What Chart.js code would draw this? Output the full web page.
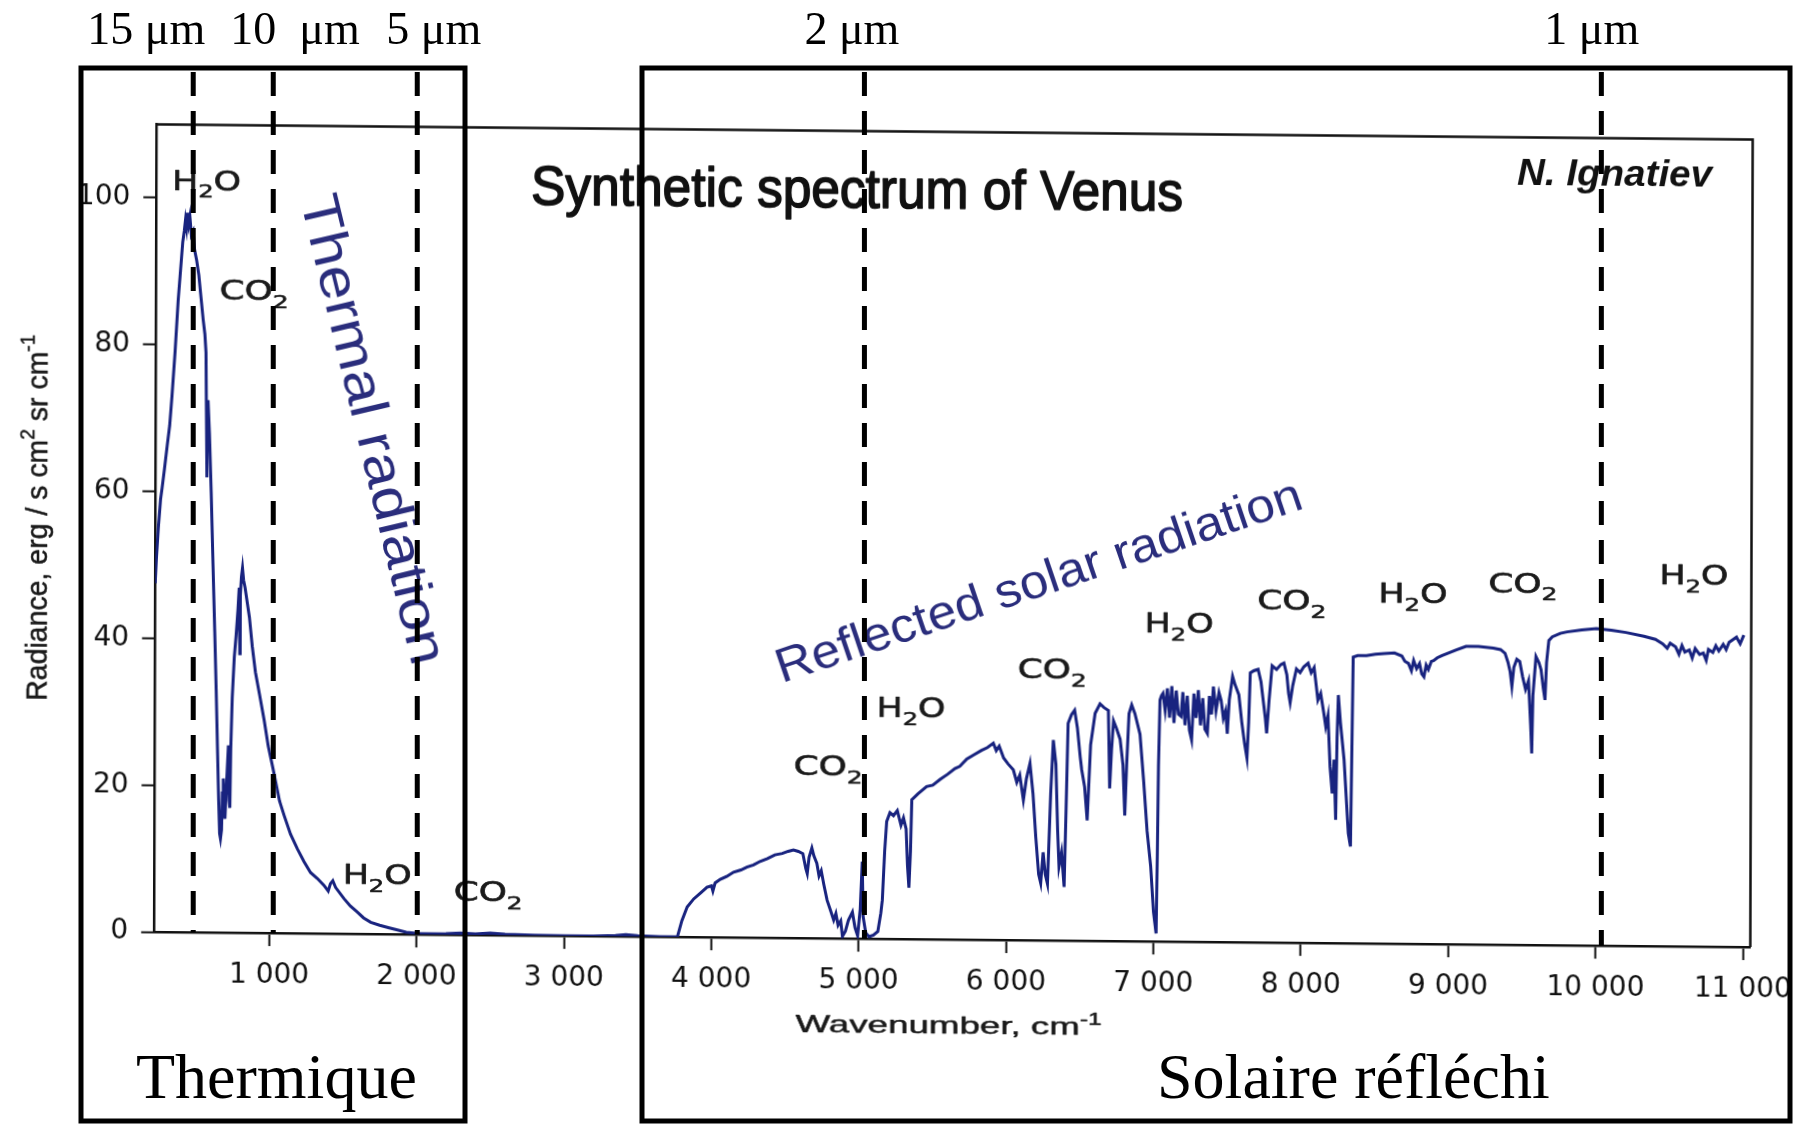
<!DOCTYPE html>
<html>
<head>
<meta charset="utf-8">
<script src="https://cdn.jsdelivr.net/npm/chart.js@4.4.0/dist/chart.umd.min.js"></script>
<style>
  html, body { margin: 0; padding: 0; background: #ffffff; }
  #wrap { position: relative; width: 1809px; height: 1125px; overflow: hidden; background: #ffffff; }
  #chart { position: absolute; left: 0; top: 0; }
  #overlay { position: absolute; left: 0; top: 0; pointer-events: none; }
</style>
</head>
<body>
<div id="wrap">
  <canvas id="chart" width="1809" height="1125"></canvas>
  <canvas id="overlay" width="1809" height="1125"></canvas>
</div>
<script>
// ---- Synthetic spectrum of Venus: radiance vs wavenumber ----
const spectrumWavenumber = [
  220, 228, 240, 255, 265, 280, 300, 315, 330, 350, 370, 385, 400, 410, 418, 425, 432, 440, 448, 458,
  470, 480, 495, 510, 525, 540, 552, 560, 564, 567, 570, 575, 585, 598, 612, 625, 636, 646, 655, 662,
  668, 675, 680, 686, 692, 698, 704, 712, 720, 726, 731, 736, 745, 758, 770, 782, 790, 795, 798, 805,
  812, 820, 830, 845, 860, 880, 902, 930, 962, 990, 1022, 1068, 1100, 1143, 1190, 1235, 1280, 1326, 1370, 1400,
  1415, 1431, 1450, 1507, 1550, 1597, 1640, 1689, 1750, 1808, 1870, 1930, 2000, 2100, 2200, 2300, 2400, 2500, 2600, 2800,
  3000, 3200, 3350, 3420, 3500, 3650, 3770,
  3800, 3836, 3880, 3925, 3970, 4000, 4010, 4025, 4060, 4103, 4150, 4200, 4240, 4285, 4330, 4380, 4430, 4480, 4520, 4556,
  4590, 4620, 4640, 4650, 4662, 4681, 4695, 4715, 4730, 4745, 4763, 4785, 4809, 4830, 4845, 4860, 4878, 4890, 4910, 4930,
  4957, 4975, 4993, 5010, 5023, 5030, 5048, 5070, 5100, 5130, 5150, 5160, 5175, 5188, 5210, 5234, 5260, 5285, 5302, 5320,
  5330, 5340, 5350, 5358, 5400, 5458, 5500, 5550, 5600, 5650, 5683, 5730, 5780, 5830, 5870, 5910, 5930, 5950, 5980, 6010,
  6046, 6070, 6090, 6115, 6135, 6159, 6180, 6200, 6220, 6234, 6250, 6265, 6280, 6300, 6317, 6335, 6348, 6358, 6375, 6393,
  6405, 6417, 6440, 6461, 6480, 6500, 6510, 6530, 6548, 6560, 6570, 6600, 6633, 6660, 6690, 6700, 6712, 6725, 6745, 6770,
  6790, 6803, 6815, 6830, 6848, 6870, 6905, 6930, 6955, 6980, 7000, 7018, 7025, 7031, 7040, 7050, 7060, 7075, 7090, 7105,
  7120, 7135, 7150, 7165, 7183, 7195, 7210, 7225, 7240, 7255, 7270, 7285, 7300, 7315, 7330, 7345, 7362, 7375, 7390, 7402,
  7420, 7440, 7455, 7470, 7485, 7497, 7510, 7532, 7550, 7575, 7595, 7615, 7631, 7642, 7652, 7675, 7705, 7725, 7740, 7755,
  7764, 7780, 7800, 7830, 7860, 7880, 7900, 7912, 7923, 7940, 7965, 7990, 8015, 8044, 8065, 8085, 8100, 8111, 8130, 8150,
  8165, 8180, 8195, 8210, 8222, 8234, 8242, 8250, 8265, 8280, 8290, 8305, 8320, 8335, 8342, 8350, 8380, 8440, 8500, 8560,
  8630, 8680, 8700, 8725, 8745, 8760, 8780, 8800, 8815, 8830, 8845, 8860, 8880, 8895, 8920, 8950, 9000, 9050, 9115, 9200,
  9300, 9350, 9380, 9400, 9415, 9427, 9440, 9460, 9480, 9500, 9520, 9540, 9555, 9563, 9570, 9590, 9610, 9625, 9640, 9652,
  9662, 9677, 9700, 9755, 9800, 9900, 9999, 10100, 10200, 10322, 10400, 10450, 10480, 10500, 10537, 10560, 10580, 10600, 10630, 10650,
  10670, 10700, 10725, 10745, 10760, 10790, 10810, 10830, 10860, 10880, 10900, 10950, 10975, 11000
];
const spectrumRadiance = [
  47.5, 51, 55, 59, 60.5, 63, 66.5, 69, 73, 79, 86, 90, 94, 95.5, 97, 96, 98, 96.5, 97.5, 95,
  95.5, 93, 91.5, 89.5, 86.5, 83.5, 81.5, 79, 71, 62, 70, 72.5, 68, 60, 50, 41, 33, 25, 18, 13.5,
  12.8, 14, 19, 21, 17.5, 15.5, 18.5, 22, 25.5, 18, 17, 25, 32, 37.5, 40.5, 44, 47, 38, 46, 48.5,
  49.7, 48, 47, 45, 43, 39, 35.5, 32.5, 29, 25.5, 22.5, 18, 16, 13.5, 11.5, 9.8, 8.3, 7.5, 6.6, 5.8,
  6.8, 7.2, 6.3, 4.8, 3.8, 3.0, 2.2, 1.6, 1.2, 0.9, 0.6, 0.3, 0.15, 0.1, 0.15, 0.25, 0.15, 0.3, 0.15, 0.05,
  0.03, 0.03, 0.1, 0.25, 0.1, 0.02, 0,
  2.2, 4.1, 5.2, 6.0, 6.8, 7.0, 6.3, 7.4, 7.9, 8.3, 8.9, 9.2, 9.6, 9.9, 10.4, 10.8, 11.3, 11.5, 11.8, 12.0,
  11.8, 11.5, 9.5, 8.8, 11.0, 12.3, 11.2, 10.2, 8.5, 9.2, 7.3, 5.2, 3.8, 2.5, 3.4, 1.8, 2.4, 0.3, 1.0, 2.5,
  3.6, 1.5, 0.4, 4, 10.5, 3, 0.8, 0.3, 0.5, 1.0, 3.5, 5.3, 12, 16.0, 17.2, 16.8, 17.5, 15.5, 16.5, 15,
  10, 7.0, 12, 19.0, 19.8, 20.8, 21.0, 21.8, 22.5, 23.3, 23.6, 24.6, 25.2, 25.8, 26.2, 26.8, 25.8, 26.4, 24.8, 24,
  23.2, 21.5, 22.5, 19.1, 22, 24.1, 20, 14, 9, 7.8, 12, 9, 7.7, 20, 27.3, 24, 15, 10.1, 12, 7.3,
  18, 29.6, 30.8, 31.4, 29, 25, 23.3, 21, 16.4, 22, 26.7, 31, 32.3, 31.8, 31.4, 20.8, 26, 30, 29, 27.5,
  24, 17.1, 24, 31, 32.2, 31, 28.2, 22, 15, 10.2, 4, 1.1, 12, 23.9, 32.9, 33.5, 33.8, 31.5, 34.5, 30.5,
  34.8, 29.8, 34.2, 31, 30.7, 34, 29.5, 33.5, 28.8, 27.5, 33.8, 30.5, 34.3, 29.5, 33.2, 29, 28.4, 33.5, 31, 34.8,
  31.5, 34, 32.9, 30.5, 31.5, 28.4, 33, 36.2, 35, 33.7, 30, 27, 25.1, 30, 36.7, 37, 37.2, 35.5, 33, 30.5,
  28.5, 33, 37.7, 37.2, 37.9, 38.1, 36.5, 34, 32.7, 35, 37.3, 36.8, 37.6, 38.1, 36.8, 37.5, 35, 33.1, 34, 31.5,
  29.5, 31, 24, 20.4, 25, 16.8, 28, 33.8, 30, 27, 25, 20, 15, 13.2, 25, 39.0, 39.2, 39.2, 39.4, 39.5,
  39.6, 39.2, 38.5, 38.2, 37.2, 38.6, 37.5, 38.2, 36.8, 36.4, 38, 37.4, 38.5, 38.6, 39, 39.3, 39.7, 40.1, 40.6, 40.6,
  40.4, 40.2, 39.7, 38.5, 37.2, 35.2, 37.8, 38.9, 38.6, 36.5, 34.8, 36, 30, 26.1, 34, 39.3, 38.5, 37.5, 35, 33.4,
  38.5, 41.5, 42.0, 42.5, 42.7, 43.0, 43.2, 43.0, 42.7, 42.2, 41.8, 41.2, 40.6, 41.3, 40.8, 39.8, 41, 40.1, 40.4, 39.3,
  40.6, 39.8, 40.0, 39.0, 40.5, 40.1, 41, 40.3, 41.2, 40.5, 41.5, 42.2, 41.3, 42.5
];

// Axis ticks
const xTickValues = [1000, 2000, 3000, 4000, 5000, 6000, 7000, 8000, 9000, 10000, 11000];
const yTickValues = [0, 20, 40, 60, 80, 100];

// Absorption band labels (molecule, wavenumber, radiance at label centre)
const bandMolecules = ['H2O', 'CO2', 'H2O', 'CO2', 'CO2', 'H2O', 'CO2', 'H2O', 'CO2', 'H2O', 'CO2', 'H2O'];
const bandWavenumbers = [561, 884, 1732, 2485, 4789, 5351, 6307, 7168, 7933, 8754, 9500, 10660];
const bandRadiance = [102.4, 87.5, 8.1, 5.9, 23.5, 31.5, 37.0, 43.4, 46.6, 47.7, 49.3, 50.6];

// Wavelength guides (dashed lines) and their labels
const guideLabels = ['15 μm', '10  μm', '5 μm', '2 μm', '1 μm'];
const guideWavenumbers = [485, 1028, 2005, 5039, 10039];

// The printed figure sits slightly sheared on the page
const W = 1809, H = 1125, CX = W / 2, CY = H / 2;
const SHEAR_X = -0.003, SHEAR_Y = 0.0095;
const chartCanvas = document.getElementById('chart');
chartCanvas.style.transformOrigin = CX + 'px ' + CY + 'px';
chartCanvas.style.transform = `matrix(1, ${SHEAR_Y}, ${SHEAR_X}, 1, 0, 0)`;
function toPage(x, y) {
  return [CX + (x - CX) + SHEAR_X * (y - CY), CY + SHEAR_Y * (x - CX) + (y - CY)];
}

function formatThousands(v) {
  if (v < 1000) return String(v);
  return Math.floor(v / 1000) + ' ' + String(v % 1000).padStart(3, '0');
}

function splitFormula(f) {
  const segs = [];
  for (const ch of f) {
    const sub = /[0-9]/.test(ch);
    const last = segs[segs.length - 1];
    if (last && !!last.sub === sub) last.t += ch; else segs.push({ t: ch, sub });
  }
  return segs;
}

// Draw text made of plain / subscript / superscript runs, optionally stretched to a width
function richText(ctx, segs, o) {
  ctx.save();
  ctx.translate(o.x, o.y);
  if (o.angle) ctx.rotate(o.angle);
  const small = Math.round(o.size * 0.68);
  const fontOf = s => `${o.style || ''} ${(s.sub || s.sup) ? small : o.size}px ${o.family}`;
  const widths = segs.map(s => { ctx.font = fontOf(s); return ctx.measureText(s.t).width; });
  const natural = widths.reduce((p, c) => p + c, 0);
  const sx = o.width ? o.width / natural : 1;
  ctx.scale(sx, 1);
  let cx = o.align === 'center' ? -natural / 2 : 0;
  const dy = o.vcenter ? o.size * 0.36 : 0;
  ctx.fillStyle = o.color || '#111';
  ctx.strokeStyle = o.color || '#111';
  ctx.lineWidth = o.stroke || 0;
  ctx.lineJoin = 'round';
  ctx.textAlign = 'left';
  ctx.textBaseline = 'alphabetic';
  segs.forEach((s, i) => {
    ctx.font = fontOf(s);
    const off = s.sub ? o.size * 0.3 : (s.sup ? -o.size * 0.42 : 0);
    ctx.fillText(s.t, cx, dy + off);
    if (o.stroke) ctx.strokeText(s.t, cx, dy + off);
    cx += widths[i];
  });
  ctx.restore();
}

function drawOverlay(chart) {
  const o = document.getElementById('overlay').getContext('2d');
  const xs = chart.scales.x, a = chart.chartArea;
  o.clearRect(0, 0, W, H);
  o.strokeStyle = '#000';
  o.fillStyle = '#000';

  // Region boxes
  o.lineWidth = 5;
  o.setLineDash([]);
  o.strokeRect(81, 68, 384, 1053);
  o.strokeRect(642, 68, 1148, 1053);

  // Wavelength guides
  const labelShift = [-106, -43, -31, -60, -57];
  o.lineWidth = 5;
  guideWavenumbers.forEach((w, i) => {
    const px = xs.getPixelForValue(w);
    const [X, Yb] = toPage(px, a.bottom);
    o.setLineDash([24, 15]);
    o.beginPath();
    o.moveTo(X, 72);
    o.lineTo(X, Yb);
    o.stroke();
    o.setLineDash([]);
    o.font = '46px "Liberation Serif"';
    o.textBaseline = 'alphabetic';
    o.textAlign = 'left';
    o.fillText(guideLabels[i], X + labelShift[i], 44);
  });

  // Region names
  o.font = '64px "Liberation Serif"';
  o.fillText('Thermique', 136, 1098);
  o.fillText('Solaire réfléchi', 1157, 1098);
}

const decorations = {
  id: 'decorations',
  afterDraw(chart) {
    const ctx = chart.ctx, a = chart.chartArea;
    const xs = chart.scales.x, ys = chart.scales.y;

    // Plot frame (top and right sides)
    ctx.save();
    ctx.strokeStyle = '#111';
    ctx.lineWidth = 2.5;
    ctx.beginPath();
    ctx.moveTo(a.left, a.top);
    ctx.lineTo(a.right, a.top);
    ctx.lineTo(a.right, a.bottom);
    ctx.stroke();
    ctx.restore();

    // Title and author
    richText(ctx, [{ t: 'Synthetic spectrum of Venus' }], {
      x: 856, y: 208, size: 56, family: '"Liberation Sans", Arial, sans-serif', width: 652, align: 'center',
      color: '#111', stroke: 1.6
    });
    richText(ctx, [{ t: 'N. Ignatiev' }], {
      x: 1516, y: 179, size: 37, style: 'italic bold', family: '"Liberation Sans", Arial, sans-serif', width: 195, color: '#111'
    });

    // Axis titles
    richText(ctx, [{ t: 'Radiance, erg / s cm' }, { t: '2', sup: true }, { t: ' sr cm' }, { t: '-1', sup: true }], {
      x: 47, y: 526, size: 30, family: '"Liberation Sans", Arial, sans-serif', width: 366, align: 'center',
      angle: -Math.PI / 2, color: '#1a1a1a', stroke: 0.5
    });
    richText(ctx, [{ t: 'Wavenumber, cm' }, { t: '-1', sup: true }], {
      x: 950, y: 1033, size: 24, family: '"Liberation Sans", Arial, sans-serif', width: 306, align: 'center',
      color: '#1a1a1a', stroke: 0.5
    });

    // Absorption band labels
    bandMolecules.forEach((m, i) => {
      richText(ctx, splitFormula(m), {
        x: xs.getPixelForValue(bandWavenumbers[i]), y: ys.getPixelForValue(bandRadiance[i]),
        size: 26, family: '"DejaVu Sans", sans-serif', width: 69, align: 'center', vcenter: true,
        color: '#1a1a1a', stroke: 0.6
      });
    });

    // Spectral region captions
    richText(ctx, [{ t: 'Thermal radiation' }], {
      x: xs.getPixelForValue(1709), y: ys.getPixelForValue(68.8), size: 54,
      family: '"Liberation Sans", Arial, sans-serif', width: 481, align: 'center', vcenter: true,
      angle: 76.3 * Math.PI / 180, color: '#2a2d7c'
    });
    richText(ctx, [{ t: 'Reflected solar radiation' }], {
      x: xs.getPixelForValue(6210), y: ys.getPixelForValue(49.2), size: 48,
      family: '"Liberation Sans", Arial, sans-serif', width: 553, align: 'center', vcenter: true,
      angle: -19 * Math.PI / 180, color: '#2a2d7c'
    });

    drawOverlay(chart);
  }
};

const points = spectrumWavenumber.map((w, i) => ({ x: w, y: spectrumRadiance[i] }));

new Chart(chartCanvas, {
  type: 'line',
  data: {
    datasets: [{
      data: points,
      borderColor: '#18237f',
      borderWidth: 3,
      pointRadius: 0,
      tension: 0,
      fill: false
    }]
  },
  options: {
    responsive: false,
    devicePixelRatio: 1,
    animation: false,
    events: [],
    layout: { padding: { left: 0, right: 57.5, top: 131.5, bottom: 0 } },
    plugins: { legend: { display: false }, tooltip: { enabled: false }, title: { display: false } },
    scales: {
      x: {
        type: 'linear',
        min: 220,
        max: 11050,
        afterBuildTicks: s => { s.ticks = xTickValues.map(v => ({ value: v })); },
        afterFit: s => { s.height = 185.9; },
        border: { display: true, color: '#111', width: 2.5 },
        grid: { display: true, drawOnChartArea: false, drawTicks: true, tickLength: 13, tickWidth: 2, tickColor: '#111' },
        ticks: {
          autoSkip: false, maxRotation: 0, minRotation: 0, padding: 13,
          color: '#111', font: { family: '"DejaVu Sans", sans-serif', size: 28 },
          callback: v => formatThousands(v)
        }
      },
      y: {
        min: 0,
        max: 110,
        afterBuildTicks: s => { s.ticks = yTickValues.map(v => ({ value: v })); },
        afterFit: s => { s.width = 155.3; },
        border: { display: true, color: '#111', width: 2.5 },
        grid: { display: true, drawOnChartArea: false, drawTicks: true, tickLength: 13, tickWidth: 2, tickColor: '#111' },
        ticks: {
          padding: 13, color: '#111', font: { family: '"DejaVu Sans", sans-serif', size: 28 },
          callback: v => String(v)
        }
      }
    }
  },
  plugins: [decorations]
});
</script>
</body>
</html>
